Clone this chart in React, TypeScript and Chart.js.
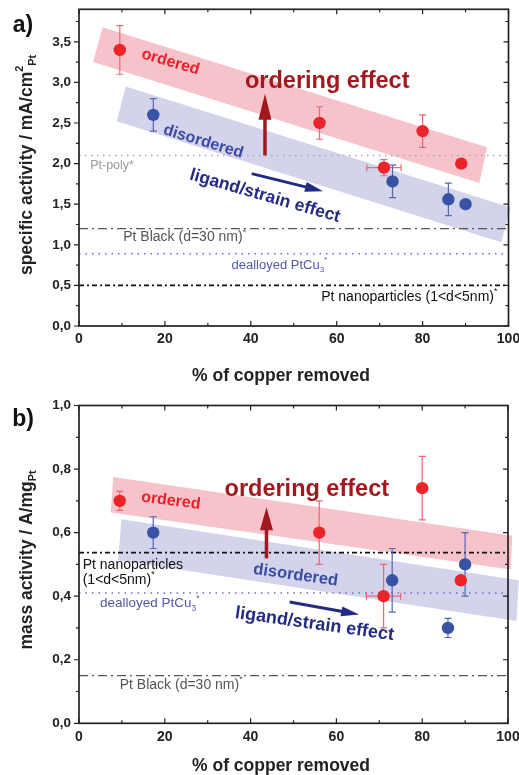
import React, { useEffect, useRef } from "react";
import { Chart, registerables } from "chart.js";
Chart.register(...registerables);

const FONT = "'Liberation Sans', Arial, Helvetica, sans-serif";

// ---------------- data ----------------
const copperOrdered = [9.5, 56, 71, 80, 89];
const copperOrderedErr = [0, 0, 4, 0, 0];
const copperDisordered = [17.3, 73, 86, 90];
const copperDisorderedErr = [0, 0, 0, 0];

const specificOrdered = [3.4, 2.5, 1.95, 2.4, 2.0];
const specificOrderedErr = [0.3, 0.2, 0.1, 0.2, 0];
const specificDisordered = [2.6, 1.78, 1.56, 1.5];
const specificDisorderedErr = [0.2, 0.2, 0.2, 0];

const massOrdered = [0.7, 0.6, 0.4, 0.74, 0.45];
const massOrderedErr = [0.03, 0.1, 0.1, 0.1, 0];
const massDisordered = [0.6, 0.45, 0.3, 0.5];
const massDisorderedErr = [0.05, 0.1, 0.03, 0.1];

// reference levels
const specificPtPoly = 2.1;
const specificPtBlack = 1.2;
const specificDealloyed = 0.89;
const specificNano = 0.5;
const massNano = 0.537;
const massDealloyed = 0.41;
const massPtBlack = 0.15;

// shaded trend bands (polygon corners)
const specificOrderedBandX = [5.5, 95, 93.2, 3.3];
const specificOrderedBandY = [3.68, 2.2, 1.76, 3.25];
const specificDisorderedBandX = [10.9, 100.5, 98.3, 8.8];
const specificDisorderedBandY = [2.95, 1.46, 1.03, 2.52];
const massOrderedBandX = [8, 101, 100.6, 7.4];
const massOrderedBandY = [0.775, 0.59, 0.484, 0.663];
const massDisorderedBandX = [9.9, 102.5, 102, 9.1];
const massDisorderedBandY = [0.642, 0.45, 0.322, 0.513];

const xTickLabels = ["0", "20", "40", "60", "80", "100"];
const specificTickLabels = ["0,0", "0,5", "1,0", "1,5", "2,0", "2,5", "3,0", "3,5"];
const massTickLabels = ["0,0", "0,2", "0,4", "0,6", "0,8", "1,0"];

// ---------------- styles ----------------
const RED = "#ec2329";
const RED_ERR = "#ef6673";
const BLUE = "#3853a4";
const BLUE_ERR = "#5566b0";
const RED_BAND = "#f7c3cb";
const BLUE_BAND = "#d3d4ec";
const DARK_RED = "#a1191e";
const NAVY = "#232b83";
const TEXT_RED = "#e8232d";
const TEXT_BLUE = "#3a4ba3";

type Seg = { t: string; mode?: "sup" | "sub" };

function drawRich(
  ctx: CanvasRenderingContext2D,
  segs: Seg[],
  x: number,
  y: number,
  size: number,
  weight: string,
  color: string,
  align: "left" | "center" | "right",
  angleDeg: number
) {
  ctx.save();
  ctx.translate(x, y);
  ctx.rotate((angleDeg * Math.PI) / 180);
  ctx.fillStyle = color;
  ctx.textBaseline = "middle";
  ctx.textAlign = "left";
  const fontFor = (s: Seg) => `${weight} ${s.mode ? size * 0.62 : size}px ${FONT}`;
  let total = 0;
  const widths = segs.map((s) => {
    ctx.font = fontFor(s);
    const w = ctx.measureText(s.t).width;
    total += w;
    return w;
  });
  let cx = align === "center" ? -total / 2 : align === "right" ? -total : 0;
  segs.forEach((s, i) => {
    ctx.font = fontFor(s);
    const dy = s.mode === "sup" ? -size * 0.38 : s.mode === "sub" ? size * 0.36 : 0;
    ctx.fillText(s.t, cx, dy);
    cx += widths[i];
  });
  ctx.restore();
}

function drawArrow(
  ctx: CanvasRenderingContext2D,
  x1: number, y1: number, x2: number, y2: number,
  color: string, shaft: number, headL: number, headW: number
) {
  const ang = Math.atan2(y2 - y1, x2 - x1);
  const len = Math.hypot(x2 - x1, y2 - y1);
  ctx.save();
  ctx.translate(x1, y1);
  ctx.rotate(ang);
  ctx.fillStyle = color;
  ctx.fillRect(0, -shaft / 2, len - headL + 1, shaft);
  ctx.beginPath();
  ctx.moveTo(len, 0);
  ctx.lineTo(len - headL, -headW / 2);
  ctx.lineTo(len - headL, headW / 2);
  ctx.closePath();
  ctx.fill();
  ctx.restore();
}

type Series = { xs: number[]; xerr: number[]; ys: number[]; yerr: number[]; color: string; errColor: string };
type Band = { xs: number[]; ys: number[]; color: string };
type RefLine = { y: number; color: string; dash: number[]; width: number };
type Label = { x: number; y: number; segs: Seg[]; size: number; color: string; weight: string; align: "left" | "center" | "right"; angle: number };
type Arrow = { x1: number; y1: number; x2: number; y2: number; color: string; shaft: number; headL: number; headW: number };

type Panel = {
  id: string;
  height: number;
  padTop: number;
  padRight: number;
  xHeight: number;
  yMax: number;
  yStep: number;
  yTicks: string[];
  series: Series[];
  bands: Band[];
  refs: RefLine[];
  labels: Label[];
  arrows: Arrow[];
  yTitle: Seg[];
  yTitlePos: [number, number];
  xTitlePos: [number, number];
  panelLabel: string;
  panelLabelPos: [number, number];
};

const txt = (t: string): Seg[] => [{ t }];

const panelA: Panel = {
  id: "a",
  height: 390,
  padTop: 9.3,
  padRight: 10.5,
  xHeight: 64,
  yMax: 3.9,
  yStep: 0.5,
  yTicks: specificTickLabels,
  series: [
    { xs: copperOrdered, xerr: copperOrderedErr, ys: specificOrdered, yerr: specificOrderedErr, color: RED, errColor: RED_ERR },
    { xs: copperDisordered, xerr: copperDisorderedErr, ys: specificDisordered, yerr: specificDisorderedErr, color: BLUE, errColor: BLUE_ERR },
  ],
  bands: [
    { xs: specificOrderedBandX, ys: specificOrderedBandY, color: RED_BAND },
    { xs: specificDisorderedBandX, ys: specificDisorderedBandY, color: BLUE_BAND },
  ],
  refs: [
    { y: specificPtPoly, color: "#a8a8a8", dash: [1.5, 4.5], width: 1.5 },
    { y: specificPtBlack, color: "#555555", dash: [9, 4, 2, 4], width: 1.3 },
    { y: specificDealloyed, color: "#6a6cc0", dash: [1.5, 5], width: 1.5 },
    { y: specificNano, color: "#111111", dash: [5, 3, 2, 3], width: 1.6 },
  ],
  labels: [
    { x: 2.6, y: 1.97, segs: txt("Pt-poly*"), size: 12.5, color: "#9a9a9a", weight: "normal", align: "left", angle: 0 },
    { x: 10.3, y: 1.09, segs: [{ t: "Pt Black (d=30 nm)" }, { t: "*", mode: "sup" }], size: 14, color: "#555555", weight: "normal", align: "left", angle: 0 },
    { x: 35.5, y: 0.75, segs: [{ t: "dealloyed PtCu" }, { t: "3", mode: "sub" }, { t: "*", mode: "sup" }], size: 13, color: "#5558a8", weight: "normal", align: "left", angle: 0 },
    { x: 97.4, y: 0.36, segs: [{ t: "Pt nanoparticles (1<d<5nm)" }, { t: "*", mode: "sup" }], size: 14, color: "#111111", weight: "normal", align: "right", angle: 0 },
    { x: 21.3, y: 3.25, segs: txt("ordered"), size: 16, color: TEXT_RED, weight: "bold", align: "center", angle: 16 },
    { x: 57.8, y: 3.01, segs: txt("ordering effect"), size: 23.5, color: DARK_RED, weight: "bold", align: "center", angle: 0 },
    { x: 28.95, y: 2.27, segs: txt("disordered"), size: 16, color: TEXT_BLUE, weight: "bold", align: "center", angle: 17 },
    { x: 43.3, y: 1.6, segs: txt("ligand/strain effect"), size: 17.5, color: NAVY, weight: "bold", align: "center", angle: 16 },
  ],
  arrows: [
    { x1: 43.3, y1: 2.1, x2: 43.3, y2: 2.86, color: DARK_RED, shaft: 3.5, headL: 26, headW: 13 },
    { x1: 40.2, y1: 1.876, x2: 56.8, y2: 1.66, color: NAVY, shaft: 3, headL: 18, headW: 10 },
  ],
  yTitle: [{ t: "specific activity / mA/cm" }, { t: "2", mode: "sup" }, { t: "Pt", mode: "sub" }],
  yTitlePos: [27, 165],
  xTitlePos: [281, 376],
  panelLabel: "a)",
  panelLabelPos: [23, 26],
};

const panelB: Panel = {
  id: "b",
  height: 385,
  padTop: 15.5,
  padRight: 11,
  xHeight: 51.7,
  yMax: 1.0,
  yStep: 0.2,
  yTicks: massTickLabels,
  series: [
    { xs: copperOrdered, xerr: copperOrderedErr, ys: massOrdered, yerr: massOrderedErr, color: RED, errColor: RED_ERR },
    { xs: copperDisordered, xerr: copperDisorderedErr, ys: massDisordered, yerr: massDisorderedErr, color: BLUE, errColor: BLUE_ERR },
  ],
  bands: [
    { xs: massOrderedBandX, ys: massOrderedBandY, color: RED_BAND },
    { xs: massDisorderedBandX, ys: massDisorderedBandY, color: BLUE_BAND },
  ],
  refs: [
    { y: massNano, color: "#111111", dash: [5, 3, 2, 3], width: 1.6 },
    { y: massDealloyed, color: "#6a6cc0", dash: [1.5, 5], width: 1.5 },
    { y: massPtBlack, color: "#555555", dash: [9, 4, 2, 4], width: 1.3 },
  ],
  labels: [
    { x: 0.86, y: 0.497, segs: txt("Pt nanoparticles"), size: 14, color: "#111111", weight: "normal", align: "left", angle: 0 },
    { x: 0.86, y: 0.45, segs: [{ t: "(1<d<5nm)" }, { t: "*", mode: "sup" }], size: 14, color: "#111111", weight: "normal", align: "left", angle: 0 },
    { x: 4.9, y: 0.377, segs: [{ t: "dealloyed PtCu" }, { t: "3", mode: "sub" }, { t: "*", mode: "sup" }], size: 13.5, color: "#5558a8", weight: "normal", align: "left", angle: 0 },
    { x: 9.5, y: 0.12, segs: [{ t: "Pt Black (d=30 nm)" }, { t: "*", mode: "sup" }], size: 14, color: "#555555", weight: "normal", align: "left", angle: 0 },
    { x: 21.4, y: 0.7, segs: txt("ordered"), size: 16, color: TEXT_RED, weight: "bold", align: "center", angle: 7 },
    { x: 53.1, y: 0.736, segs: txt("ordering effect"), size: 23.5, color: DARK_RED, weight: "bold", align: "center", angle: 0 },
    { x: 50.5, y: 0.466, segs: txt("disordered"), size: 16.5, color: TEXT_BLUE, weight: "bold", align: "center", angle: 8 },
    { x: 54.9, y: 0.312, segs: txt("ligand/strain effect"), size: 18, color: NAVY, weight: "bold", align: "center", angle: 8 },
  ],
  arrows: [
    { x1: 43.7, y1: 0.519, x2: 43.7, y2: 0.68, color: DARK_RED, shaft: 3.5, headL: 23, headW: 13 },
    { x1: 49.1, y1: 0.382, x2: 65.3, y2: 0.342, color: NAVY, shaft: 3, headL: 18, headW: 10 },
  ],
  yTitle: [{ t: "mass activity / A/mg" }, { t: "Pt", mode: "sub" }],
  yTitlePos: [27, 170],
  xTitlePos: [281, 376],
  panelLabel: "b)",
  panelLabelPos: [23, 30],
};

function makePlugin(cfg: Panel) {
  return {
    id: "panel-" + cfg.id,
    beforeDatasetsDraw(chart: any) {
      const ctx: CanvasRenderingContext2D = chart.ctx;
      const xs = chart.scales.x;
      const ys = chart.scales.y;
      const px = (v: number) => xs.getPixelForValue(v);
      const py = (v: number) => ys.getPixelForValue(v);
      const { left, right } = chart.chartArea;
      ctx.save();
      cfg.bands.forEach((b) => {
        ctx.beginPath();
        b.xs.forEach((xv, i) => {
          const X = px(xv);
          const Y = py(b.ys[i]);
          if (i === 0) ctx.moveTo(X, Y);
          else ctx.lineTo(X, Y);
        });
        ctx.closePath();
        ctx.fillStyle = b.color;
        ctx.fill();
      });
      cfg.refs.forEach((r) => {
        ctx.beginPath();
        ctx.setLineDash(r.dash);
        ctx.strokeStyle = r.color;
        ctx.lineWidth = r.width;
        const Y = py(r.y);
        ctx.moveTo(left, Y);
        ctx.lineTo(right, Y);
        ctx.stroke();
      });
      ctx.setLineDash([]);
      cfg.labels.forEach((l) =>
        drawRich(ctx, l.segs, px(l.x), py(l.y), l.size, l.weight, l.color, l.align, l.angle)
      );
      cfg.arrows.forEach((a) =>
        drawArrow(ctx, px(a.x1), py(a.y1), px(a.x2), py(a.y2), a.color, a.shaft, a.headL, a.headW)
      );
      // error bars
      const cap = 3.5;
      cfg.series.forEach((s) => {
        ctx.strokeStyle = s.errColor;
        ctx.lineWidth = 1.2;
        s.xs.forEach((xv, i) => {
          const X = px(xv);
          const Y = py(s.ys[i]);
          if (s.yerr[i] > 0) {
            const y1 = py(s.ys[i] + s.yerr[i]);
            const y2 = py(s.ys[i] - s.yerr[i]);
            ctx.beginPath();
            ctx.moveTo(X, y1); ctx.lineTo(X, y2);
            ctx.moveTo(X - cap, y1); ctx.lineTo(X + cap, y1);
            ctx.moveTo(X - cap, y2); ctx.lineTo(X + cap, y2);
            ctx.stroke();
          }
          if (s.xerr[i] > 0) {
            const x1 = px(xv - s.xerr[i]);
            const x2 = px(xv + s.xerr[i]);
            ctx.beginPath();
            ctx.moveTo(x1, Y); ctx.lineTo(x2, Y);
            ctx.moveTo(x1, Y - cap); ctx.lineTo(x1, Y + cap);
            ctx.moveTo(x2, Y - cap); ctx.lineTo(x2, Y + cap);
            ctx.stroke();
          }
        });
      });
      ctx.restore();
    },
    afterDraw(chart: any) {
      const ctx: CanvasRenderingContext2D = chart.ctx;
      const xs = chart.scales.x;
      const ys = chart.scales.y;
      const { left, right, top, bottom } = chart.chartArea;
      ctx.save();
      ctx.strokeStyle = "#222";
      ctx.lineWidth = 1.2;
      ctx.beginPath();
      for (let i = 0; i <= 10; i++) {
        const X = xs.getPixelForValue(i * 10);
        const L = i % 2 === 0 ? 5 : 3;
        ctx.moveTo(X, bottom); ctx.lineTo(X, bottom - L);
        ctx.moveTo(X, top); ctx.lineTo(X, top + L);
      }
      const half = cfg.yStep / 2;
      const n = Math.floor(cfg.yMax / half + 1e-6);
      for (let i = 0; i <= n; i++) {
        const Y = ys.getPixelForValue(i * half);
        const L = i % 2 === 0 ? 5 : 3;
        ctx.moveTo(left - L, Y); ctx.lineTo(left, Y);
        ctx.moveTo(right, Y); ctx.lineTo(right - L, Y);
      }
      ctx.stroke();
      ctx.lineWidth = 1.7;
      ctx.strokeRect(left, top, right - left, bottom - top);
      // titles
      drawRich(ctx, cfg.yTitle, cfg.yTitlePos[0], cfg.yTitlePos[1], 17.5, "bold", "#222", "center", -90);
      drawRich(ctx, txt("% of copper removed"), cfg.xTitlePos[0], cfg.xTitlePos[1], 17.5, "bold", "#222", "center", 0);
      drawRich(ctx, txt(cfg.panelLabel), cfg.panelLabelPos[0], cfg.panelLabelPos[1], 23, "bold", "#111", "center", 0);
      ctx.restore();
    },
  };
}

function PanelChart({ cfg }: { cfg: Panel }) {
  const ref = useRef<HTMLCanvasElement | null>(null);
  useEffect(() => {
    if (!ref.current) return;
    const chart = new Chart(ref.current, {
      type: "scatter",
      data: {
        datasets: cfg.series.map((s) => ({
          data: s.xs.map((x, i) => ({ x, y: s.ys[i] })),
          backgroundColor: s.color,
          borderColor: s.color,
          borderWidth: 0,
          pointRadius: 6.2,
          pointHoverRadius: 6.2,
        })),
      },
      options: {
        animation: false,
        responsive: false,
        events: [],
        layout: { padding: { left: 0, top: cfg.padTop, right: cfg.padRight, bottom: 0 } },
        plugins: { legend: { display: false }, tooltip: { enabled: false } },
        scales: {
          x: {
            type: "linear",
            min: 0,
            max: 100,
            grid: { display: false, drawTicks: false },
            border: { display: false },
            ticks: {
              stepSize: 20,
              padding: 5,
              color: "#222",
              font: { family: FONT, size: 14, weight: "bold" },
              callback: (_v: any, i: number) => xTickLabels[i],
            },
            afterFit: (s: any) => {
              s.height = cfg.xHeight;
              s.paddingLeft = 0;
              s.paddingRight = 0;
            },
          },
          y: {
            type: "linear",
            min: 0,
            max: cfg.yMax,
            grid: { display: false, drawTicks: false },
            border: { display: false },
            ticks: {
              stepSize: cfg.yStep,
              includeBounds: false,
              padding: 8,
              color: "#222",
              font: { family: FONT, size: 13.5, weight: "bold" },
              callback: (_v: any, i: number) => cfg.yTicks[i],
            },
            afterFit: (s: any) => {
              s.width = 79;
              s.paddingTop = 0;
              s.paddingBottom = 0;
            },
          },
        },
      } as any,
      plugins: [makePlugin(cfg)],
    });
    return () => chart.destroy();
  }, [cfg]);
  return (
    <canvas
      ref={ref}
      width={519}
      height={cfg.height}
      style={{ display: "block", width: 519, height: cfg.height }}
    />
  );
}

export default function App() {
  return (
    <div style={{ position: "absolute", left: 0, top: 0, width: 519, height: 775, background: "#fff" }}>
      <PanelChart cfg={panelA} />
      <PanelChart cfg={panelB} />
    </div>
  );
}
